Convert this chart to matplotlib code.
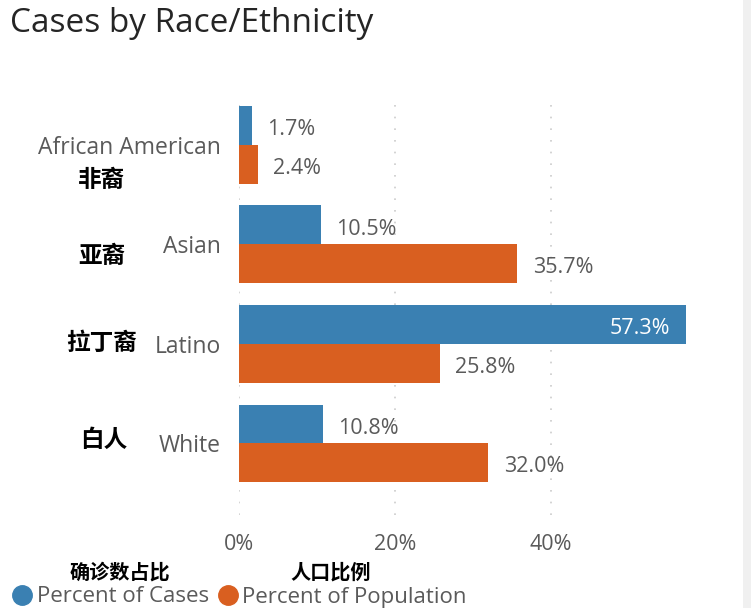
import matplotlib
matplotlib.use("Agg")
import matplotlib.pyplot as plt
from matplotlib.lines import Line2D
from matplotlib.patches import Rectangle
import numpy as np

categories = ["African American", "Asian", "Latino", "White"]
categories_zh = ["非裔", "亚裔", "拉丁裔", "白人"]
pct_cases = [1.7, 10.5, 57.3, 10.8]
pct_population = [2.4, 35.7, 25.8, 32.0]
series_names = ["Percent of Cases", "Percent of Population"]
series_names_zh = ["确诊数占比", "人口比例"]

BLUE = "#3A80B2"
ORANGE = "#D95F20"
GREY_TEXT = "#5a5a5a"

plt.rcParams["font.family"] = ["Open Sans", "Noto Sans CJK SC", "DejaVu Sans"]

W, H = 751, 608
fig = plt.figure(figsize=(W / 100, H / 100), dpi=100)
fig.patch.set_facecolor("white")
# grey strip on the right edge
fig.patches.append(Rectangle((743 / W, 0), 8 / W, 1, transform=fig.transFigure,
                             facecolor="#f0f0f0", edgecolor="none", zorder=0))

ax = fig.add_axes([239 / W, 1 - 515 / H, 499 / W, 420 / H])
y = np.arange(len(categories))
h = 0.39
ax.barh(y - h / 2, pct_cases, height=h, color=BLUE, zorder=2)
ax.barh(y + h / 2, pct_population, height=h, color=ORANGE, zorder=2)

ax.set_xlim(0, 64)
ax.set_ylim(3.72, -0.5)
ax.set_xticks([0, 20, 40])
ax.set_xticklabels(["0%", "20%", "40%"])
ax.set_yticks(y)
ax.set_yticklabels(categories)
ax.tick_params(axis="both", length=0, colors=GREY_TEXT)
ax.tick_params(axis="x", pad=14, labelsize=15.5)
ax.tick_params(axis="y", pad=13, labelsize=16.5)
for s in ax.spines.values():
    s.set_visible(False)
ax.grid(True, axis="x", color="#cccccc", linestyle=(0, (1, 6)), linewidth=1.2, zorder=0)

# value labels, sitting a touch below the bar centre as in the source
for yi, v in zip(y - h / 2, pct_cases):
    if v > 50:
        ax.annotate(f"{v:.1f}%", (v, yi), xytext=(-11, -3), textcoords="offset points",
                    ha="right", va="center", color="white", fontsize=15.5)
    else:
        ax.annotate(f"{v:.1f}%", (v, yi), xytext=(11, -3), textcoords="offset points",
                    ha="left", va="center", color=GREY_TEXT, fontsize=15.5)
for yi, v in zip(y + h / 2, pct_population):
    ax.annotate(f"{v:.1f}%", (v, yi), xytext=(11, -3), textcoords="offset points",
                ha="left", va="center", color=GREY_TEXT, fontsize=15.5)

fig.text(10 / W, 1 - 24 / H, "Cases by Race/Ethnicity", fontsize=24, color="#252525",
         ha="left", va="center")

# Chinese category annotations
zh_pos = [(125, 180), (125, 256), (137, 343), (127, 440)]
for (px, py), t in zip(zh_pos, categories_zh):
    fig.text(px / W, 1 - py / H, t, ha="right", va="center", fontsize=17,
             fontweight="bold", color="black", family=["Noto Sans CJK SC"])

# legend
handles = [Line2D([], [], marker="o", linestyle="none", markersize=14, color=c)
           for c in (BLUE, ORANGE)]
leg = fig.legend(handles, series_names, loc="center left", bbox_to_anchor=(8 / W, 1 - 597 / H),
                 ncol=2, frameon=False, fontsize=16, handletextpad=0.0, columnspacing=0.2,
                 handlelength=1.3, borderpad=0, borderaxespad=0)
for t in leg.get_texts():
    t.set_color(GREY_TEXT)

fig.text(120 / W, 1 - 572 / H, series_names_zh[0], ha="center", va="center", fontsize=14.5,
         fontweight="bold", color="black", family=["Noto Sans CJK SC"])
fig.text(331 / W, 1 - 572 / H, series_names_zh[1], ha="center", va="center", fontsize=14.5,
         fontweight="bold", color="black", family=["Noto Sans CJK SC"])

fig.savefig("out.png", dpi=100)
